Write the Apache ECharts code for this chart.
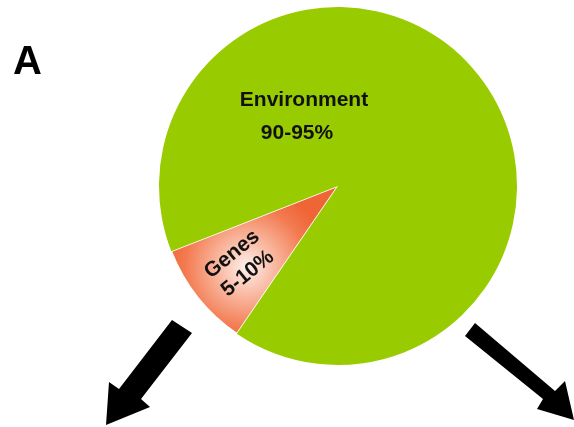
<!DOCTYPE html>
<html>
<head>
<meta charset="utf-8">
<script src="https://cdn.jsdelivr.net/npm/echarts@6/dist/echarts.min.js"></script>
<style>
html,body{margin:0;padding:0;background:#fff;}
#chart{width:574px;height:427px;}
</style>
</head>
<body>
<div id="chart"></div>
<script>
// ---- data ----
const categories = ['Genes', 'Environment'];
const values = [9.5, 90.5];
const rangeLabels = ['5-10%', '90-95%'];
const panelLabel = 'A';

const CX = 338, CY = 186, R = 179;
const START = 235.6;

const chart = echarts.init(document.getElementById('chart'), null, {renderer: 'canvas'});

const genesFill = {
  type: 'radial', x: 0.45, y: 0.55, r: 0.55,
  colorStops: [
    {offset: 0, color: '#fdf0ec'},
    {offset: 0.35, color: '#f9b8a0'},
    {offset: 0.75, color: '#f37a50'},
    {offset: 1, color: '#ef6536'}
  ]
};

const FONT = 'Liberation Sans, Arial, sans-serif';

const data = categories.map((c, i) => ({
  name: c,
  value: values[i],
  itemStyle: i === 0
    ? {color: genesFill, borderColor: '#ffffff', borderWidth: 1.5}
    : {color: '#99cc00', borderWidth: 0},
  label: i === 0
    ? {formatter: '{g|{b}}\n{g|' + rangeLabels[i] + '}'}
    : {formatter: '{a|{b}}\n{b|' + rangeLabels[i] + '}'}
}));

const total = values.reduce((a, b) => a + b, 0);

chart.setOption({
  animation: false,
  title: {
    text: panelLabel, left: 8, top: 38,
    textStyle: {fontFamily: FONT, fontWeight: 'bold', fontSize: 40, color: '#000'}
  },
  series: [{
    type: 'pie',
    center: [CX, CY],
    radius: [0, R],
    startAngle: START,
    clockwise: true,
    silent: true,
    data: data,
    label: {
      show: true,
      position: 'inside',
      color: '#111',
      fontFamily: FONT,
      fontWeight: 'bold',
      rich: {
        a: {fontFamily: FONT, fontWeight: 'bold', fontSize: 21, color: '#111', lineHeight: 33},
        b: {fontFamily: FONT, fontWeight: 'bold', fontSize: 21, color: '#111', lineHeight: 33, padding: [0, 14, 0, 0]},
        g: {fontFamily: FONT, fontWeight: 'bold', fontSize: 21, color: '#111', lineHeight: 25}
      }
    },
    labelLine: {show: false},
    labelLayout: function (p) {
      if (p.dataIndex === 0) {
        const mid = (START - values[0] / total * 360 / 2) * Math.PI / 180;
        return {
          x: CX + Math.cos(mid) * R * 0.70,
          y: CY - Math.sin(mid) * R * 0.70,
          align: 'center', verticalAlign: 'middle', rotate: 39
        };
      }
      return {x: CX - 34, y: CY - 69.5, align: 'center', verticalAlign: 'middle'};
    }
  }],
  graphic: [
    {
      type: 'polygon', silent: true,
      shape: {points: [[172, 320], [192, 333], [141, 399], [150, 407], [106, 425], [109, 382], [119, 389]]},
      style: {fill: '#000'}
    },
    {
      type: 'polygon', silent: true,
      shape: {points: [[475, 323], [465, 336], [543, 399], [537, 409], [574, 420], [565, 381], [555, 391]]},
      style: {fill: '#000'}
    }
  ]
});
</script>
</body>
</html>
